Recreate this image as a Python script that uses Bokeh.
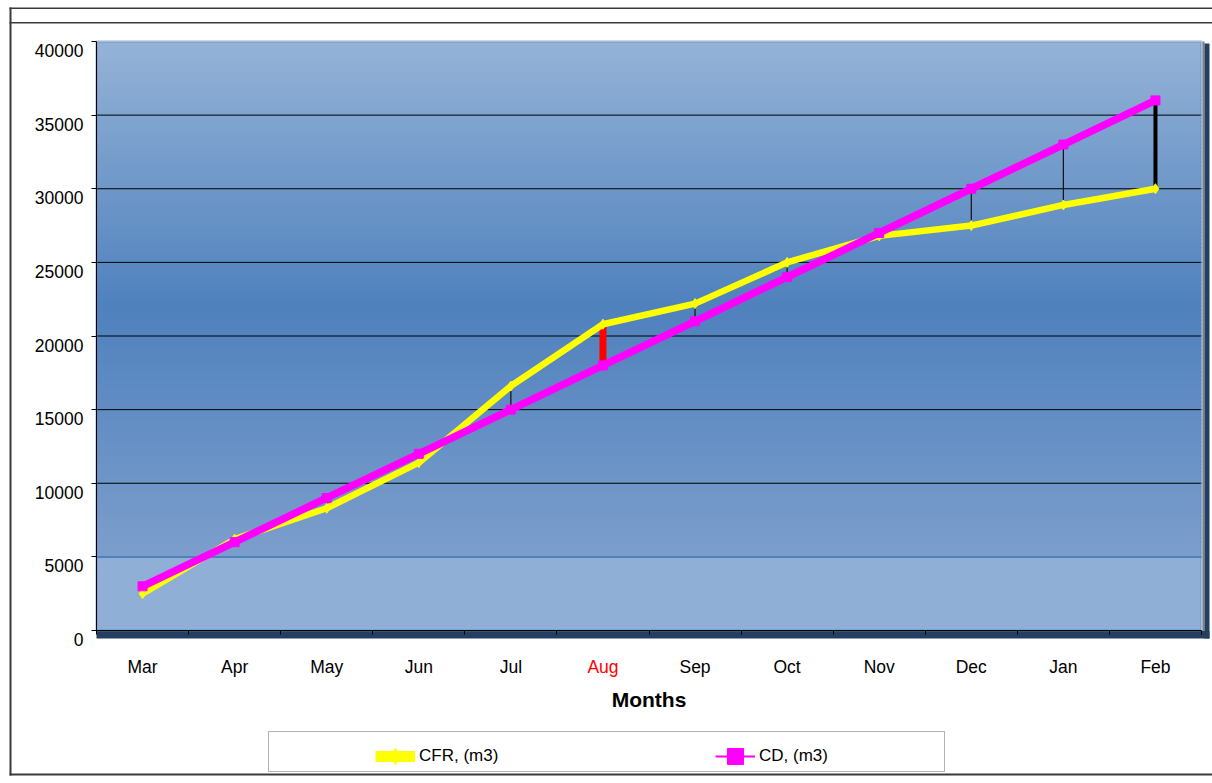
import numpy as np
from bokeh.plotting import figure
from bokeh.models import (Range1d, FixedTicker, BoxAnnotation, Label, LabelSet,
                          Legend, LegendItem, ColumnDataSource, CustomJSTickFormatter)
from bokeh.core.properties import value
from bokeh.embed import file_html
from bokeh.resources import INLINE

# ---------------- data ----------------
months = ["Mar", "Apr", "May", "Jun", "Jul", "Aug", "Sep", "Oct", "Nov", "Dec", "Jan", "Feb"]
cfr_m3 = [2500, 6200, 8300, 11400, 16600, 20800, 22200, 25000, 26800, 27500, 28900, 30000]
cd_m3 = [3000, 6000, 9000, 12000, 15000, 18000, 21000, 24000, 27000, 30000, 33000, 36000]
y_ticks = [0, 5000, 10000, 15000, 20000, 25000, 30000, 35000, 40000]
highlight_month = "Aug"
x_title = "Months"
legend_labels = ["CFR, (m3)", "CD, (m3)"]

# ---------------- styling / layout ----------------
FONT = "Liberation Sans"
YELLOW = "#FFFF00"
MAGENTA = "#FF00FF"
NAVY = "#243F60"
FRAME_BLUE = "#4F81BD"
LINE_DARK = "#3a3a3a"

W, H = 1212, 783
PL, PT, PR, PB = 96, 41, 1201, 630  # plot area in page pixels

n = len(months)
xs = [i + 0.5 for i in range(n)]
y_min, y_max = y_ticks[0], y_ticks[-1]
kx = (PR - PL) / n
ky = (PB - PT) / (y_max - y_min)


def fx(px):  # page x pixel -> data x
    return (px - PL) / kx


def fy(py):  # page y pixel -> data y
    return y_min + (PB - py) / ky


p = figure(width=W, height=H,
           x_range=Range1d(fx(0), fx(W)), y_range=Range1d(fy(H), fy(0)),
           output_backend="svg", toolbar_location=None,
           min_border=0, min_border_left=0, min_border_right=0,
           min_border_top=0, min_border_bottom=0)
p.background_fill_color = "white"
p.border_fill_color = "white"
p.outline_line_color = None
p.xgrid.visible = False
p.ygrid.visible = False


def box(l, r, t, b, color, level="underlay", line_color=None, line_width=1, fill_alpha=1):
    p.add_layout(BoxAnnotation(left=fx(l), right=fx(r), top=fy(t), bottom=fy(b),
                               fill_color=color, fill_alpha=fill_alpha,
                               line_color=line_color, line_width=line_width, level=level))


# ---------------- gradient background of the plot area ----------------
def mix(c1, c2, t):
    return "#%02x%02x%02x" % tuple(int(round(a + (b - a) * t)) for a, b in zip(c1, c2))

g_lo, g_mid, g_hi = 5000, 22000, 40000
c_lo, c_mid, c_hi = (124, 158, 204), (79, 129, 189), (149, 179, 215)
nb = 140
edges = np.linspace(g_lo, g_hi, nb + 1)
cols = []
for a, b in zip(edges[:-1], edges[1:]):
    m = (a + b) / 2
    if m < g_mid:
        cols.append(mix(c_lo, c_mid, (m - g_lo) / (g_mid - g_lo)))
    else:
        cols.append(mix(c_mid, c_hi, (m - g_mid) / (g_hi - g_mid)))
p.quad(left=0, right=n, bottom=[y_min], top=[g_lo], fill_color="#8FAFD6",
       line_color=None, level="image")
tops = np.minimum(edges[1:] + 60, y_max)
p.quad(left=0, right=n, bottom=edges[:-1], top=tops, fill_color=cols,
       line_color=None, level="image")

# shadow (3-D frame look)
box(PR + 1, PR + 3, 41, 633, "#7f7f7f", level="image")
box(PR + 3, PR + 8, 43, 638, NAVY, level="image")
box(PL, PR + 8, PB + 0.5, 638, NAVY, level="image")

# blue border of plot area
p.add_layout(BoxAnnotation(left=0, right=n, bottom=y_min, top=y_max, fill_alpha=0,
                           line_color=FRAME_BLUE, line_width=3, level="underlay"))

# ---------------- grid lines ----------------
grid_vals = y_ticks[2:-1]
p.segment(x0=[0] * len(grid_vals), x1=[n] * len(grid_vals), y0=grid_vals, y1=grid_vals,
          line_color="black", line_width=1, level="underlay")
p.segment(x0=[0], x1=[n], y0=[y_ticks[1]], y1=[y_ticks[1]],
          line_color=FRAME_BLUE, line_width=2, level="underlay")

# ---------------- outer chart-area lines ----------------
for (l, r, t, b) in [(9, W, 7, 8.5), (9, W, 21.5, 23), (9, 11, 7, 775), (9, W, 773, 775)]:
    box(l, r, t, b, LINE_DARK)

# ---------------- drop lines between series ----------------
special = {"Aug": ("#FF0000", 7), "Feb": ("#000000", 4)}
d_col = [special.get(m, ("#111111", 1.2))[0] for m in months]
d_w = [special.get(m, ("#111111", 1.2))[1] for m in months]
p.segment(x0=xs, y0=cfr_m3, x1=xs, y1=cd_m3, line_color=d_col, line_width=d_w)

# ---------------- series ----------------
p.line(xs, cfr_m3, line_color=YELLOW, line_width=6.5)
p.scatter(xs, cfr_m3, marker="diamond", size=10, fill_color=YELLOW, line_color=YELLOW)
p.line(xs, cd_m3, line_color=MAGENTA, line_width=7.5)
p.scatter(xs, cd_m3, marker="square", size=9, fill_color=MAGENTA, line_color=MAGENTA)

# legend-only glyph styles (one invisible NaN point each)
nan = [float("nan")]
lg_cfr_line = p.line(x=nan, y=nan, line_color=YELLOW, line_width=11)
lg_cfr_mark = p.scatter(x=nan, y=nan, marker="diamond", fill_color=YELLOW, line_color=YELLOW)
lg_cd_line = p.line(x=nan, y=nan, line_color=MAGENTA, line_width=2)
lg_cd_mark = p.scatter(x=nan, y=nan, marker="square", fill_color=MAGENTA, line_color=MAGENTA)

# ---------------- axes ----------------
p.yaxis.fixed_location = 0
p.yaxis.bounds = (y_min, y_max)
p.yaxis.ticker = FixedTicker(ticks=y_ticks)
p.yaxis.formatter = CustomJSTickFormatter(code="return ''")
p.yaxis.axis_line_color = "black"
p.yaxis.major_tick_out = 5
p.yaxis.major_tick_in = 0
p.yaxis.minor_tick_out = 0
p.yaxis.minor_tick_in = 0
p.yaxis.major_tick_line_color = "black"

ysrc = ColumnDataSource(dict(y=y_ticks, text=[str(v) for v in y_ticks]))
p.add_layout(LabelSet(x=fx(83), y="y", text="text", source=ysrc,
                      text_align=value("right"), text_baseline=value("middle"), y_offset=-9,
                      text_font=value(FONT), text_font_size=value("17.5px"),
                      text_color=value("black")))

p.xaxis.fixed_location = y_min
p.xaxis.bounds = (0, n)
p.xaxis.ticker = FixedTicker(ticks=xs, minor_ticks=list(range(n + 1)))
p.xaxis.major_label_overrides = {x: ("" if m == highlight_month else m) for x, m in zip(xs, months)}
p.xaxis.axis_line_color = "black"
p.xaxis.major_tick_out = 0
p.xaxis.major_tick_in = 0
p.xaxis.minor_tick_out = 4
p.xaxis.minor_tick_in = 0
p.xaxis.minor_tick_line_color = "black"
p.xaxis.major_label_standoff = 22
p.xaxis.major_label_text_font = FONT
p.xaxis.major_label_text_font_size = "17.5px"
p.xaxis.major_label_text_color = "black"
p.xaxis.axis_label = x_title
p.xaxis.axis_label_text_font = FONT
p.xaxis.axis_label_text_font_size = "21px"
p.xaxis.axis_label_text_font_style = "bold"
p.xaxis.axis_label_text_color = "black"
p.xaxis.axis_label_standoff = 8

hx = xs[months.index(highlight_month)]
p.add_layout(Label(x=hx, y=fy(656), text=highlight_month,
                   text_color="#FF0000", text_align="center", text_baseline="top",
                   text_font=FONT, text_font_size="17.5px"))

# ---------------- legend ----------------
box(268, 944, 731, 771, "white", line_color="black", line_width=1)
legend = Legend(items=[LegendItem(label=legend_labels[0], renderers=[lg_cfr_line, lg_cfr_mark]),
                       LegendItem(label=legend_labels[1], renderers=[lg_cd_line, lg_cd_mark])],
                location=(375, H - 779), orientation="horizontal",
                glyph_width=40, glyph_height=46,
                label_standoff=4, label_width=296,
                spacing=0, padding=0, margin=0,
                border_line_alpha=0, background_fill_alpha=0,
                label_text_font=FONT, label_text_font_size="17px",
                label_text_color="black")
p.add_layout(legend)

open("out.html", "w").write(file_html(p, INLINE))
